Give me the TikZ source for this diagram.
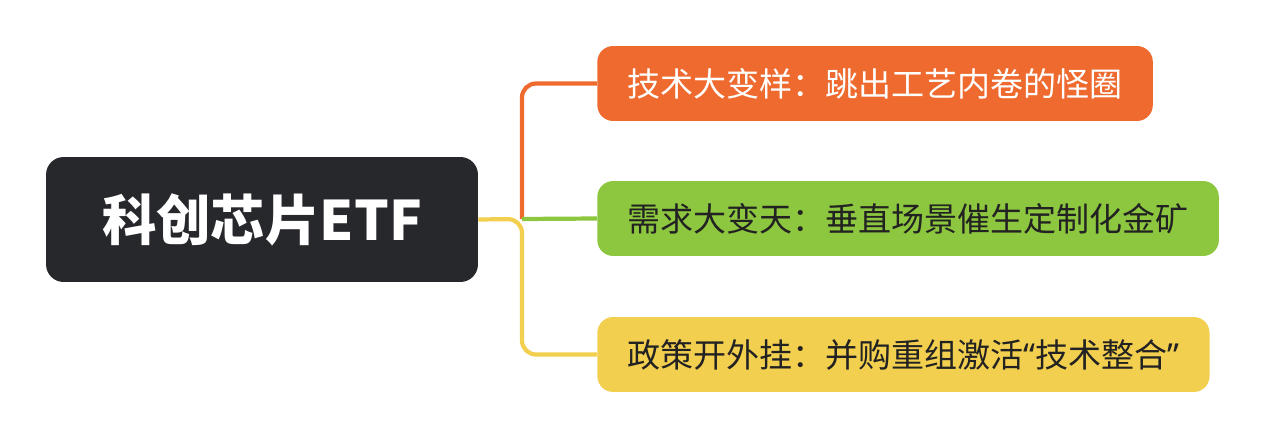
\documentclass[tikz,border=0pt]{standalone}
\usepackage{fontspec}
\setmainfont{Noto Sans CJK SC}
\newfontfamily\latinq{Noto Sans}
\usetikzlibrary{positioning}
\definecolor{rootc}{HTML}{27282C}
\definecolor{orgc}{HTML}{EE6A2F}
\definecolor{grnc}{HTML}{8DC63F}
\definecolor{yelc}{HTML}{F3CF4F}
\definecolor{txtc}{HTML}{222222}
\begin{document}
\begin{tikzpicture}[
			x=0.02cm, y=-0.02cm,
			branch/.style={rounded corners=9pt, minimum height=1.5cm, anchor=west, inner xsep=0.6cm, font=\fontsize{18.8}{22}\selectfont},
			link/.style={line width=2.4pt, rounded corners=8pt}
		]
		\useasboundingbox (0,0) rectangle (1265,439);
		\node[fill=rootc, rounded corners=10pt, minimum width=8.64cm, minimum height=2.5cm, text=white, font=\fontsize{31}{35}\selectfont\bfseries] (root) at (262,219.5) {科创芯片ETF};
		\node[branch, fill=orgc, text=white] (tech) at (597,83.5) {技术大变样：跳出工艺内卷的怪圈};
		\node[branch, fill=grnc, text=txtc] (need) at (597,218.5) {需求大变天：垂直场景催生定制化金矿};
		\node[branch, fill=yelc, text=txtc] (policy) at (597,354.5) {政策开外挂：并购重组激活{\latinq “}技术整合{\latinq ”}};

		\draw[link, orgc] (522,219) -- (522,83.5) -- (tech.west);
		\draw[link, yelc] (root.east) -- (522,219) -- (522,354.5) -- (policy.west);
		\draw[link, grnc] (522,219) -- (need.west);
	\end{tikzpicture}
\end{document}
